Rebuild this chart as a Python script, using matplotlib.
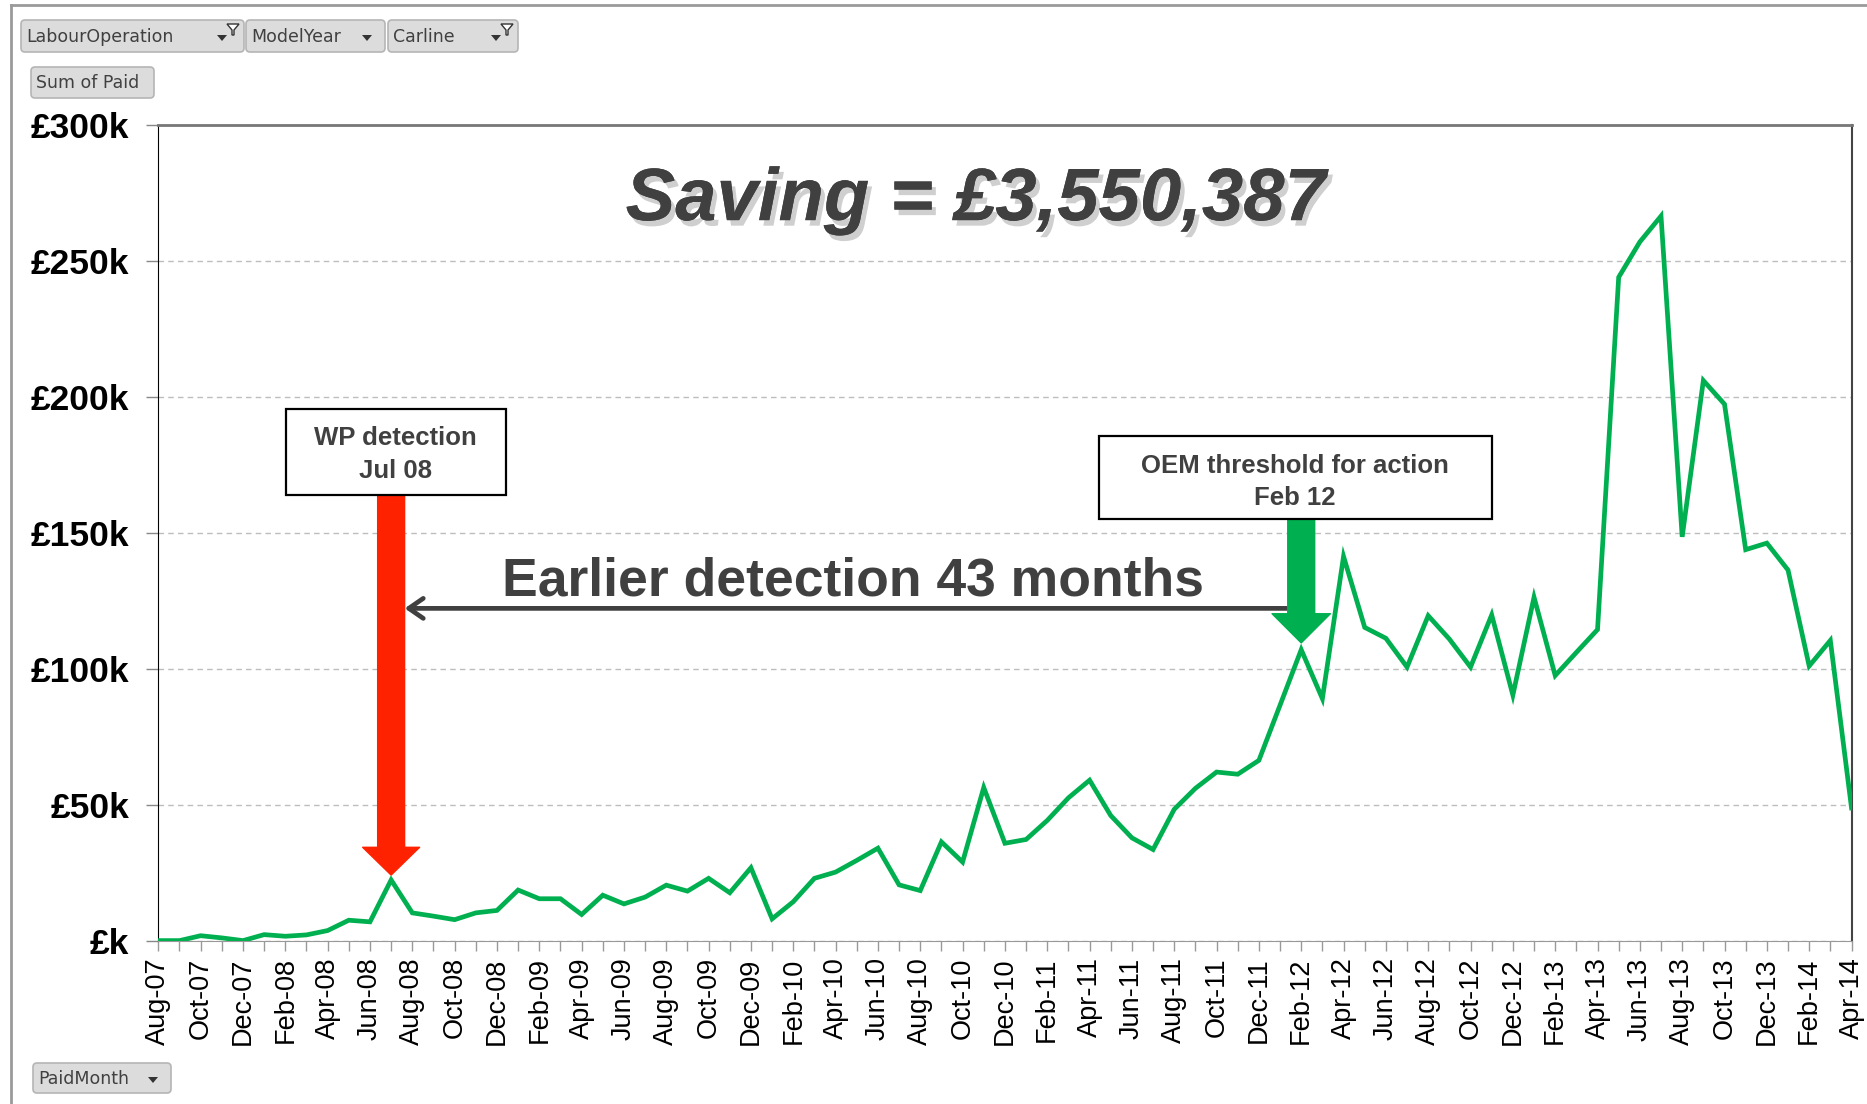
import numpy as np
import matplotlib.pyplot as plt
import matplotlib.patheffects as pe
from matplotlib.patches import FancyBboxPatch, Rectangle, Polygon

# monthly "Sum of Paid" in £k, Aug-07 .. Apr-14
paid_k = [0, 0, 1.8, 1.0, 0, 2.2, 1.6, 2.1, 3.7, 7.5, 6.9, 22.3, 10.2, 9.0, 7.7, 10.2,
          11.1, 18.6, 15.4, 15.4, 9.6, 16.7, 13.5, 16.0, 20.4, 18.2, 22.9, 17.6, 26.8, 8.0,
          14.3, 22.9, 25.2, 29.5, 34.0, 20.5, 18.4, 36.3, 28.9, 56.3, 35.8, 37.2, 44.2, 52.5,
          59.0, 46.0, 37.8, 33.5, 48.3, 56.0, 62.0, 61.2, 66.3, 86.6, 107.0, 89.0, 141.3,
          115.2, 111.2, 100.6, 119.5, 110.9, 100.6, 119.8, 90.3, 126.3, 97.5, 106.0, 114.4,
          244.0, 257.0, 266.5, 148.5, 206.0, 197.3, 143.8, 146.2, 136.3, 101.0, 110.4, 48.8]

month_labels = ["Aug-07", "Oct-07", "Dec-07", "Feb-08", "Apr-08", "Jun-08", "Aug-08",
                "Oct-08", "Dec-08", "Feb-09", "Apr-09", "Jun-09", "Aug-09", "Oct-09",
                "Dec-09", "Feb-10", "Apr-10", "Jun-10", "Aug-10", "Oct-10", "Dec-10",
                "Feb-11", "Apr-11", "Jun-11", "Aug-11", "Oct-11", "Dec-11", "Feb-12",
                "Apr-12", "Jun-12", "Aug-12", "Oct-12", "Dec-12", "Feb-13", "Apr-13",
                "Jun-13", "Aug-13", "Oct-13", "Dec-13", "Feb-14", "Apr-14"]

y_ticks = [0, 50000, 100000, 150000, 200000, 250000, 300000]
y_labels = ["£k", "£50k", "£100k", "£150k", "£200k", "£250k", "£300k"]

wp_month = 11      # Jul-08
oem_month = 54     # Feb-12

GREEN = "#00B050"
RED = "#FF2200"
DARK = "#404040"

plt.rcParams["font.family"] = ["Liberation Sans", "DejaVu Sans"]

W, H = 1867, 1104
fig = plt.figure(figsize=(W / 100, H / 100), dpi=100)
ax = fig.add_axes([0.0848, 0.1480, 0.9069, 0.7388])

paid = np.array(paid_k) * 1000
x = np.arange(len(paid))
ax.plot(x, paid, color=GREEN, lw=3.4, solid_joinstyle="miter", zorder=3)

ax.set_xlim(0, len(paid) - 1)
ax.set_ylim(0, 300000)
ax.set_yticks(y_ticks)
ax.set_yticklabels(y_labels, fontsize=25.5, fontweight="bold")
ax.set_xticks(x[::2])
ax.set_xticks(x, minor=True)
ax.set_xticklabels(month_labels, rotation=90, fontsize=19.5)
ax.tick_params(axis="y", length=9, width=1, color="#888888", pad=12)
ax.tick_params(axis="x", which="both", length=7, width=1, color="#999999", pad=5)
ax.grid(axis="y", ls=(0, (4, 3)), color="#bdbdbd", lw=1)
ax.spines["left"].set_color("black")
ax.spines["bottom"].set_color("#999999")
ax.spines["top"].set_color("#777777")
ax.spines["top"].set_linewidth(2)
ax.spines["right"].set_color("#444444")
ax.spines["right"].set_linewidth(1.5)

# headline
ax.text(38.6, 265000, "Saving = £3,550,387", fontsize=53.5, fontweight="bold",
        fontstyle="italic", color=DARK, ha="center", va="baseline",
        path_effects=[pe.withSimplePatchShadow(offset=(3, -4), shadow_rgbFace="#888888",
                                               alpha=0.4), pe.Normal()])

# text boxes
ax.add_patch(Rectangle((6.03, 164000), 10.39, 31500, facecolor="white",
                       edgecolor="black", lw=1.6, zorder=5))
ax.text(11.22, 182300, "WP detection", fontsize=18.5, fontweight="bold", color=DARK,
        ha="center", va="baseline", zorder=6)
ax.text(11.22, 170100, "Jul 08", fontsize=18.5, fontweight="bold", color=DARK,
        ha="center", va="baseline", zorder=6)

ax.add_patch(Rectangle((44.43, 155100), 18.57, 30500, facecolor="white",
                       edgecolor="black", lw=1.6, zorder=5))
ax.text(53.71, 172100, "OEM threshold for action", fontsize=18.5, fontweight="bold",
        color=DARK, ha="center", va="baseline", zorder=6)
ax.text(53.71, 160300, "Feb 12", fontsize=18.5, fontweight="bold", color=DARK,
        ha="center", va="baseline", zorder=6)

# block arrows
ax.annotate("", xy=(wp_month, paid[wp_month] + 1800), xytext=(wp_month, 164000),
            arrowprops=dict(arrowstyle="simple,head_length=20,head_width=41,tail_width=19.4",
                            color=RED, mutation_scale=1, shrinkA=0, shrinkB=0), zorder=4)
ax.annotate("", xy=(oem_month, 109500), xytext=(oem_month, 155100),
            arrowprops=dict(arrowstyle="simple,head_length=21,head_width=42,tail_width=19.4",
                            color=GREEN, mutation_scale=1, shrinkA=0, shrinkB=0), zorder=4)

# gap arrow
ax.annotate("", xy=(11.64, 122200), xytext=(oem_month, 122200),
            arrowprops=dict(arrowstyle="->,head_length=0.26,head_width=0.18", color=DARK,
                            lw=3.4, mutation_scale=40, shrinkA=0, shrinkB=0), zorder=3.5)
ax.text(32.8, 127100, "Earlier detection 43 months", fontsize=38.5, fontweight="bold",
        color=DARK, ha="center", va="baseline", zorder=6)

# overlay in pixel coordinates for the pivot buttons and frame
ov = fig.add_axes([0, 0, 1, 1], zorder=10)
ov.set_xlim(0, W)
ov.set_ylim(H, 0)
ov.axis("off")
ov.patch.set_alpha(0)

ov.plot([11, 11], [5, H], color="#9a9a9a", lw=2)
ov.plot([11, W], [5, 5], color="#9a9a9a", lw=2)


def button(x0, x1, y0, y1, label, dropdown=True, funnel=False):
    ov.add_patch(FancyBboxPatch((x0, y0), x1 - x0, y1 - y0,
                                boxstyle="round,pad=0,rounding_size=4",
                                facecolor="#dcdcdc", edgecolor="#b5b5b5", lw=1.2))
    ov.text(x0 + 5, (y0 + y1) / 2 + 1, label, fontsize=12.5, color=DARK,
            family="DejaVu Sans", ha="left", va="center")
    if dropdown:
        cx = x1 - 18 if not funnel else x1 - 22
        cy = (y0 + y1) / 2 + 1
        ov.add_patch(Polygon([[cx - 5, cy - 2], [cx + 5, cy - 2], [cx, cy + 4]],
                             closed=True, color="#333333", lw=0))
    if funnel:
        fx, fy = x1 - 11, y0 + 7
        ov.add_patch(Polygon([[fx - 6, fy - 3], [fx + 6, fy - 3], [fx + 1, fy + 3],
                              [fx + 1, fy + 8], [fx - 1, fy + 8], [fx - 1, fy + 3]],
                             closed=True, facecolor="white", edgecolor="#333333", lw=1))


button(21, 244, 20, 52, "LabourOperation", funnel=True)
button(246, 385, 20, 52, "ModelYear")
button(388, 518, 20, 52, "Carline", funnel=True)
button(31, 154, 67, 98, "Sum of Paid", dropdown=False)
button(33, 171, 1063, 1093, "PaidMonth")

fig.savefig("out.png", dpi=100)
